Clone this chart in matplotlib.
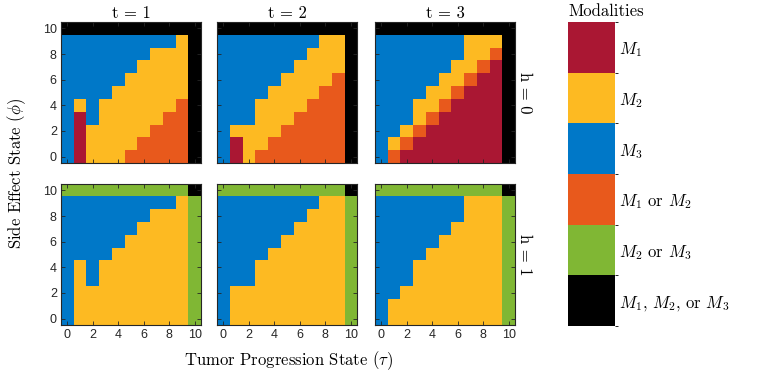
import numpy as np
import matplotlib
matplotlib.use("Agg")
import matplotlib.pyplot as plt
from matplotlib.colors import ListedColormap, BoundaryNorm
from matplotlib.cm import ScalarMappable

plt.rcParams['mathtext.fontset'] = 'cm'
plt.rcParams['axes.unicode_minus'] = False

# modality codes: 0=M1, 1=M2, 2=M3, 3=M1 or M2, 4=M2 or M3, 5=any
labels = ['$M_1$', '$M_2$', '$M_3$', '$M_1$ or $M_2$', '$M_2$ or $M_3$',
          '$M_1$, $M_2$, or $M_3$']
colors = ['#AA1733', '#FDBA22', '#0078C8', '#E8591C', '#80B734', '#000000']

times = [1, 2, 3]
horizons = [0, 1]
ticks = [0, 2, 4, 6, 8, 10]

# rows listed from phi = 10 (top) down to phi = 0, columns tau = 0..10
h0_t1 = ["55555555555",
         "22222222215",
         "22222221115",
         "22222211115",
         "22222111115",
         "22221111115",
         "21211111135",
         "20211111335",
         "20111113335",
         "20111133335",
         "20111333335"]
h0_t2 = ["55555555555",
         "22222222115",
         "22222221115",
         "22222211115",
         "22222111135",
         "22221111335",
         "22211113335",
         "22211133335",
         "21111333335",
         "20113333335",
         "20133333335"]
h0_t3 = ["55555555555",
         "22222221115",
         "22222221135",
         "22222211305",
         "22222113005",
         "22221130005",
         "22211300005",
         "22213000005",
         "22130000005",
         "21300000005",
         "23000000005"]
h1_t1 = ["44444444445",
         "22222222214",
         "22222221114",
         "22222211114",
         "22222111114",
         "22221111114",
         "21211111114",
         "21211111114",
         "21111111114",
         "21111111114",
         "21111111114"]
h1_t2 = ["44444444445",
         "22222222114",
         "22222221114",
         "22222211114",
         "22222111114",
         "22221111114",
         "22211111114",
         "22211111114",
         "21111111114",
         "21111111114",
         "21111111114"]
h1_t3 = ["44444444445",
         "22222221114",
         "22222221114",
         "22222211114",
         "22222111114",
         "22221111114",
         "22211111114",
         "22211111114",
         "22111111114",
         "21111111114",
         "21111111114"]

grids = [[h0_t1, h0_t2, h0_t3], [h1_t1, h1_t2, h1_t3]]

cmap = ListedColormap(colors)
norm = BoundaryNorm(np.arange(-0.5, 6.5, 1), cmap.N)

serif = 'cmr10'
tickfont = 'Liberation Sans'

fig = plt.figure(figsize=(7.66, 3.79), dpi=100)

# panel positions in pixels (left, top) of the reference
lefts = [61, 217, 375]
tops = [22, 184]
W, H = 766.0, 379.0
pw, ph = 140, 141

for r, h in enumerate(horizons):
    for c, t in enumerate(times):
        ax = fig.add_axes([lefts[c] / W, 1 - (tops[r] + ph) / H, pw / W, ph / H])
        data = np.array([[int(ch) for ch in row] for row in grids[r][c]])
        ax.imshow(data, cmap=cmap, norm=norm, origin='upper',
                  extent=(-0.5, 10.5, -0.5, 10.5), interpolation='nearest',
                  aspect='auto')
        ax.set_xlim(-0.5, 10.5)
        ax.set_ylim(-0.5, 10.5)
        ax.set_xticks(ticks)
        ax.set_yticks(ticks)
        ax.tick_params(direction='in', length=3, width=0.6, top=True, right=True,
                       colors='#262626', labelsize=9, pad=3)
        for lab in ax.get_xticklabels() + ax.get_yticklabels():
            lab.set_fontfamily(tickfont)
        if r == 0:
            ax.set_xticklabels([])
            ax.set_title('t = %d' % t, fontfamily=serif, fontsize=12, pad=3)
        if c > 0:
            ax.set_yticklabels([])
        if c == 2:
            ax.text(1.07, 0.5, 'h = %d' % h, transform=ax.transAxes,
                    rotation=-90, ha='center', va='center',
                    fontfamily=serif, fontsize=12)
        for s in ax.spines.values():
            s.set_linewidth(0.8)
            s.set_color('#262626')

fig.text(17 / W, 1 - 173 / H, r'Side Effect State ($\phi$)', rotation=90,
         ha='center', va='center', fontfamily=serif, fontsize=12)
fig.text(288 / W, 1 - 361 / H, r'Tumor Progression State ($\tau$)',
         ha='center', va='center', fontfamily=serif, fontsize=12)

# legend as a categorical colour bar
cax = fig.add_axes([568 / W, 1 - 326 / H, 47 / W, 304 / H])
sm = ScalarMappable(norm=norm, cmap=cmap)
cb = fig.colorbar(sm, cax=cax, ticks=np.arange(6))
cb.ax.invert_yaxis()
cb.ax.set_yticklabels(labels)
cb.ax.tick_params(length=0, labelsize=12, pad=3)
for lab in cb.ax.get_yticklabels():
    lab.set_fontfamily(serif)
cb.outline.set_visible(False)
fig.text(568 / W, 1 - 11 / H, 'Modalities', ha='left', va='center',
         fontfamily=serif, fontsize=12)

fig.savefig('out.png', dpi=100)
